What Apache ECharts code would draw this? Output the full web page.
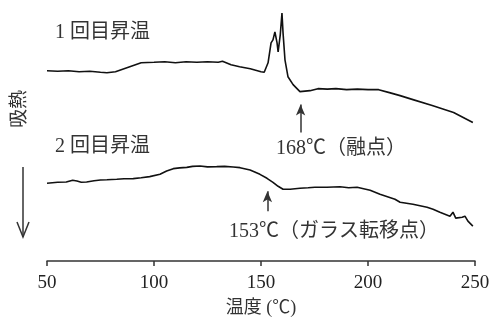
<!DOCTYPE html>
<html>
<head>
<meta charset="utf-8">
<script src="https://cdn.jsdelivr.net/npm/echarts@6/dist/echarts.min.js"></script>
<style>html,body{margin:0;padding:0;background:#fff;}#c{width:493px;height:322px;}</style>
</head>
<body>
<div id="c"></div>
<script>
// Temperature (°C) and heat flow (arbitrary units, endotherm downwards)
const tempsFirst = [50,55,60,65,70,75,78,82,86,90,94,100,105,110,115,120,125,130,132,136,140,145,150,151.5,153.3,154.7,155.6,156.5,157.5,158,159,159.8,160.3,161.2,162.6,165,168.2,172.9,176.6,181,185,190,195,200,205,210,215,221,230,240,249];
const flowFirst  = [19.1,19.05,19.1,19.0,19.05,18.95,18.9,19.0,19.3,19.6,19.9,19.95,20.0,19.9,20.0,19.95,20.0,19.95,20.05,19.7,19.5,19.3,19.0,18.95,19.9,21.9,22.2,23.0,21.9,21.0,22.7,24.9,22.9,20.2,18.5,17.7,17.0,17.1,17.3,17.25,17.3,17.2,17.25,17.2,17.2,16.9,16.6,16.2,15.6,14.9,13.9];
const tempsSecond = [50,55,59,62,64,66,68.5,72,75,78,82.6,86,90.3,94,98,102.8,105.9,109,112,115.3,118,121.5,125,129.3,133,137,140.2,144.9,149.5,152.8,155.6,158,160.3,163.6,168.2,172,175.2,180.8,186.9,191,194.9,201,205.6,212.6,215,221,227.6,230.4,233.6,238.3,239.7,241,244,245.3,246.7,249];
const flowSecond  = [7.8,7.9,7.93,8.1,8.03,7.9,7.93,8.05,8.13,8.15,8.2,8.25,8.27,8.35,8.47,8.7,9.03,9.27,9.35,9.4,9.5,9.53,9.45,9.47,9.5,9.43,9.37,9.13,8.7,8.3,7.9,7.5,7.2,7.2,7.3,7.35,7.4,7.4,7.45,7.35,7.4,7.1,6.7,6.2,5.9,5.7,5.4,5.2,4.9,4.5,4.9,4.3,4.4,4.5,4.0,3.5];
const xTicks = [50,100,150,200,250];
const seriesNames = ['1 回目昇温','2 回目昇温'];
const meltTemp = 168.5, meltArrow = [12.9, 15.7];
const glassTemp = 153, glassArrow = [5.0, 7.0];
const meltLabel = '168℃（融点）';
const glassLabel = '153℃（ガラス転移点）';
const xTitle = '温度 (℃)';
const yTitle = '吸熱';

const serif = '"Liberation Serif","Noto Sans CJK JP",serif';
const zip = (a,b)=>a.map((t,i)=>[t,b[i]]);
const chart = echarts.init(document.getElementById('c'));
const txt = (x,y,text,size)=>({type:'text',x:x,y:y,style:{text:text,font:size+'px '+serif,fill:'#333',verticalAlign:'middle'}});
chart.setOption({
  animation:false,
  backgroundColor:'#fff',
  grid:{left:47,right:18,top:0,bottom:60},
  xAxis:{type:'value',min:xTicks[0],max:xTicks[xTicks.length-1],interval:50,
    name:xTitle,nameLocation:'middle',nameGap:38,
    nameTextStyle:{fontFamily:serif,fontSize:18,color:'#333'},
    axisLine:{lineStyle:{color:'#333',width:1.5}},
    axisTick:{inside:false,length:5,lineStyle:{color:'#333',width:1.5}},
    axisLabel:{fontFamily:serif,fontSize:19,color:'#222',margin:13},
    splitLine:{show:false}},
  yAxis:{type:'value',min:0,max:26.2,show:false},
  series:[
    {name:seriesNames[0],type:'line',data:zip(tempsFirst,flowFirst),showSymbol:false,
     lineStyle:{color:'#111',width:1.6},
     markLine:{silent:true,symbol:['none','arrow'],symbolSize:[7,11],
       lineStyle:{color:'#333',width:1.5,type:'solid'},label:{show:false},
       data:[[{coord:[meltTemp,meltArrow[0]]},{coord:[meltTemp,meltArrow[1]]}]]}},
    {name:seriesNames[1],type:'line',data:zip(tempsSecond,flowSecond),showSymbol:false,
     lineStyle:{color:'#111',width:1.6},
     markLine:{silent:true,symbol:['none','arrow'],symbolSize:[7,11],
       lineStyle:{color:'#333',width:1.5,type:'solid'},label:{show:false},
       data:[[{coord:[glassTemp,glassArrow[0]]},{coord:[glassTemp,glassArrow[1]]}]]}}
  ],
  graphic:[
    txt(55,33,seriesNames[0],20),
    txt(55,147,seriesNames[1],20),
    txt(276,149,meltLabel,20),
    txt(229,232,glassLabel,20),
    {type:'text',x:20,y:109,rotation:Math.PI/2,style:{text:yTitle,font:'19px '+serif,fill:'#333',align:'center',verticalAlign:'middle'}},
    {type:'polyline',shape:{points:[[23,167],[23,237]]},style:{stroke:'#333',lineWidth:1.5}},
    {type:'polyline',shape:{points:[[17,222],[23,237],[29,222]]},style:{stroke:'#333',lineWidth:1.5,fill:null}}
  ]
});
</script>
</body>
</html>
